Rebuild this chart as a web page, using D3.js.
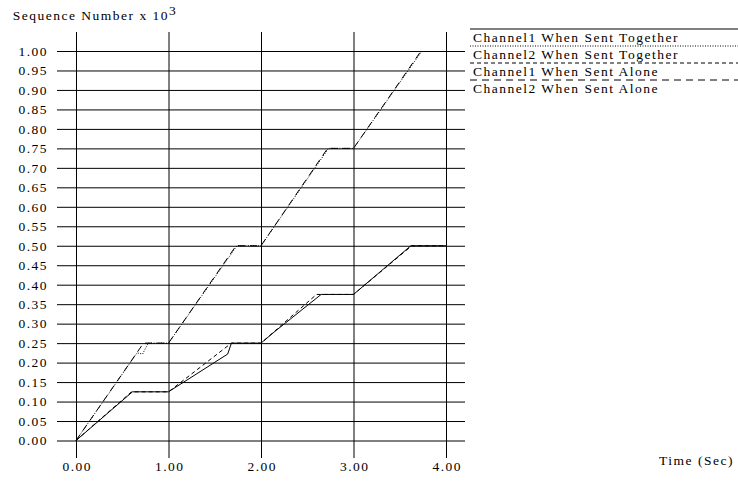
<!DOCTYPE html>
<html>
<head>
<meta charset="utf-8">
<script src="https://cdn.jsdelivr.net/npm/d3@7"></script>
<style>
  html, body { margin: 0; padding: 0; background: #fff; }
  svg { display: block; }
  text { font-family: "Liberation Serif", "DejaVu Serif", serif; font-size: 13.5px; letter-spacing: 1.5px; fill: #000; }
</style>
</head>
<body>
<div id="chart"></div>
<script>
// ---- data ----
const xTicks = [0, 1, 2, 3, 4];
const yTicks = d3.range(0, 21).map(i => +(i * 0.05).toFixed(2));

const seriesNames = [
  "Channel1 When Sent Together",
  "Channel2 When Sent Together",
  "Channel1 When Sent Alone",
  "Channel2 When Sent Alone"
];

// time (sec)
const ch1TogetherT = [0, 0.61, 1.0, 1.64, 1.68, 2.0, 2.15, 2.65, 3.0, 3.62, 4.0];
const ch1TogetherV = [0, 0.125, 0.125, 0.222, 0.25, 0.25, 0.28, 0.375, 0.375, 0.5, 0.5];

const ch2TogetherT = [0, 0.66, 0.72, 0.78, 1.0, 1.74, 2.0, 2.73, 3.0, 3.74];
const ch2TogetherV = [0, 0.225, 0.222, 0.25, 0.25, 0.5, 0.5, 0.75, 0.75, 1.0];

const ch1AloneT = [0, 0.6, 1.0, 1.68, 2.0, 2.6, 3.0, 3.63, 4.0];
const ch1AloneV = [0, 0.125, 0.125, 0.25, 0.25, 0.375, 0.375, 0.5, 0.5];

const ch2AloneT = [0, 0.73, 1.0, 1.73, 2.0, 2.72, 3.0, 3.73];
const ch2AloneV = [0, 0.25, 0.25, 0.5, 0.5, 0.75, 0.75, 1.0];

const dashes = [null, "1,1.5", "4,3", "7,5"];

// ---- chart ----
const W = 738, H = 483;
const svg = d3.select("#chart").append("svg").attr("width", W).attr("height", H);

const x = d3.scaleLinear().domain([0, 4]).range([76, 446]);
const y = d3.scaleLinear().domain([0, 1]).range([440.5, 51]);

const gridLeft = 57, gridRight = 465, gridTop = 32, gridBottom = 458;

// y grid + labels
const yAxis = d3.axisLeft(y)
  .tickValues(yTicks)
  .tickFormat(d3.format(".2f"))
  .tickSize(-(gridRight - gridLeft))
  .tickPadding(9);
const gy = svg.append("g").attr("transform", `translate(${gridLeft},0)`).call(yAxis);
gy.select(".domain").remove();
gy.selectAll(".tick line").attr("stroke", "#000");
gy.selectAll(".tick text").style("font-family", null).style("font-size", null).attr("font-family", null).attr("font-size", null);

// x grid + labels
const xAxis = d3.axisBottom(x)
  .tickValues(xTicks)
  .tickFormat(d3.format(".2f"))
  .tickSize(-(gridBottom - gridTop))
  .tickPadding(3);
const gx = svg.append("g").attr("transform", `translate(0,${gridBottom})`).call(xAxis);
gx.select(".domain").remove();
gx.selectAll(".tick line").attr("stroke", "#000");
gx.selectAll(".tick text").attr("dx", "0.75px");

svg.selectAll("g").attr("font-family", null).attr("font-size", null);

// series
const series = [
  { t: ch1TogetherT, v: ch1TogetherV },
  { t: ch2TogetherT, v: ch2TogetherV },
  { t: ch1AloneT, v: ch1AloneV },
  { t: ch2AloneT, v: ch2AloneV }
];
const line = d3.line().x(d => x(d[0])).y(d => y(d[1]));
series.forEach((s, i) => {
  svg.append("path")
    .datum(s.t.map((t, j) => [t, s.v[j]]))
    .attr("d", line)
    .attr("fill", "none")
    .attr("stroke", "#000")
    .attr("stroke-width", 1)
    .attr("stroke-dasharray", dashes[i]);
});

// titles
const title = svg.append("text").attr("x", 12.7).attr("y", 19.5);
title.append("tspan").text("Sequence Number x 10");
title.append("tspan").attr("dy", -5).text("3");

svg.append("text").attr("x", 659).attr("y", 465).text("Time (Sec)");

// legend
const legY0 = 29, legStep = 17;
seriesNames.forEach((name, i) => {
  const ly = legY0 + i * legStep;
  svg.append("line")
    .attr("x1", 470).attr("x2", 738)
    .attr("y1", ly).attr("y2", ly)
    .attr("stroke", "#000").attr("stroke-width", 1)
    .attr("stroke-dasharray", dashes[i]);
  svg.append("text").attr("x", 473).attr("y", ly + 12.5).text(name);
});
</script>
</body>
</html>
